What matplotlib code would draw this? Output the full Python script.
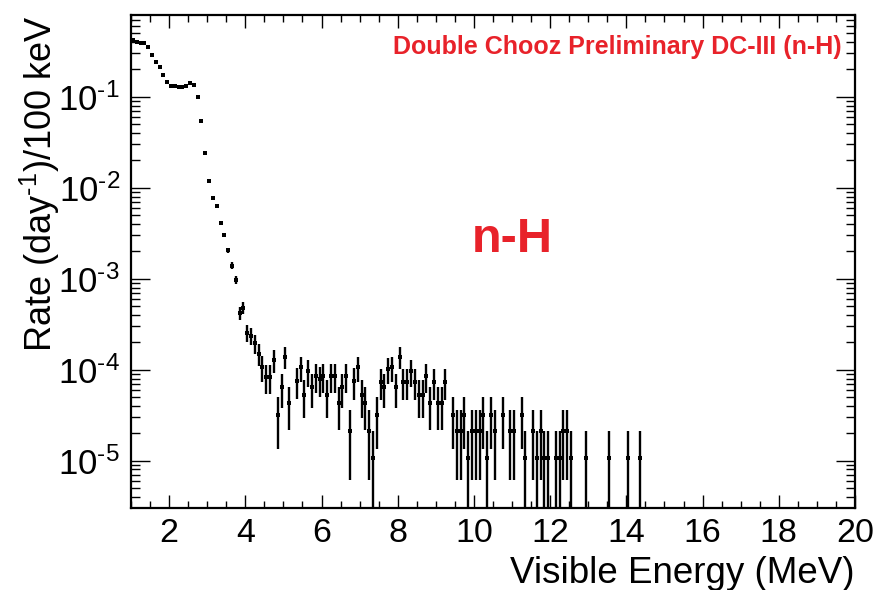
import numpy as np
import matplotlib
matplotlib.use("Agg")
import matplotlib.pyplot as plt
from matplotlib.ticker import FixedLocator, LogLocator, NullFormatter, FuncFormatter

plt.rcParams['font.family'] = ['Liberation Sans', 'DejaVu Sans']
plt.rcParams['mathtext.fontset'] = 'custom'
plt.rcParams['mathtext.rm'] = 'Liberation Sans'
plt.rcParams['mathtext.it'] = 'Liberation Sans:italic'
plt.rcParams['mathtext.bf'] = 'Liberation Sans:bold'
plt.rcParams['axes.unicode_minus'] = False

# ---- data ----
energy = [1.05, 1.15, 1.25, 1.35, 1.45, 1.55, 1.65, 1.75, 1.85, 1.95,
          2.05, 2.15, 2.25, 2.35, 2.45, 2.55, 2.65, 2.75, 2.85, 2.95,
          3.05, 3.15, 3.25, 3.35, 3.45, 3.55, 3.65, 3.75, 3.85, 3.95,
          4.05, 4.15, 4.25, 4.35, 4.45, 4.55, 4.65, 4.75, 4.85, 4.95,
          5.05, 5.15, 5.35, 5.45, 5.55, 5.65, 5.75, 5.85, 5.95,
          6.05, 6.15, 6.25, 6.35, 6.45, 6.55, 6.65, 6.75, 6.85, 6.95,
          7.05, 7.15, 7.25, 7.35, 7.45, 7.55, 7.65, 7.75, 7.85, 7.95,
          8.05, 8.15, 8.25, 8.35, 8.45, 8.55, 8.65, 8.75, 8.85, 8.95,
          9.05, 9.15, 9.25, 9.45, 9.55, 9.65, 9.75, 9.85, 9.95,
          10.05, 10.15, 10.25, 10.35, 10.45, 10.55, 10.75, 10.95,
          11.05, 11.25, 11.35, 11.55, 11.65, 11.75, 11.85, 11.95,
          12.15, 12.25, 12.35, 12.45, 12.55, 12.95, 13.55, 14.05, 14.35]

rate = [0.42, 0.40, 0.386, 0.386, 0.35, 0.285, 0.239, 0.21, 0.173, 0.144,
        0.132, 0.132, 0.129, 0.127, 0.132, 0.143, 0.135, 0.098, 0.054, 0.0239,
        0.0119, 0.00776, 0.0063, 0.00412, 0.00302, 0.00205, 0.00139, 0.000975, 0.000417, 0.000482,
        2.56e-4, 2.37e-4, 1.95e-4, 1.50e-4, 1.07e-4, 8.4e-5, 8.4e-5, 1.28e-4, 3.2e-5, 6.4e-5,
        1.39e-4, 4.3e-5, 7.6e-5, 1.06e-4, 5.3e-5, 9.7e-5, 6.4e-5, 8.5e-5, 7.9e-5,
        8.5e-5, 5.3e-5, 8.5e-5, 8.5e-5, 4.3e-5, 6.4e-5, 8.5e-5, 2.1e-5, 7.5e-5, 1.06e-4,
        5.3e-5, 4.3e-5, 2.1e-5, 1.06e-5, 3.2e-5, 7.4e-5, 6.4e-5, 1.02e-4, 1.06e-4, 6.4e-5,
        1.39e-4, 7.4e-5, 7.4e-5, 9.6e-5, 7.4e-5, 5.3e-5, 5.3e-5, 8.5e-5, 4.3e-5, 7.4e-5,
        4.3e-5, 4.3e-5, 7.4e-5, 3.2e-5, 2.1e-5, 2.1e-5, 3.2e-5, 1.06e-5, 2.1e-5,
        2.1e-5, 2.1e-5, 3.2e-5, 1.06e-5, 3.2e-5, 2.1e-5, 3.2e-5, 2.1e-5,
        2.1e-5, 3.2e-5, 1.06e-5, 2.1e-5, 1.06e-5, 2.1e-5, 1.06e-5, 1.06e-5,
        1.06e-5, 1.06e-5, 2.1e-5, 2.1e-5, 1.06e-5, 1.06e-5, 1.06e-5, 1.06e-5, 1.06e-5]

single_event_rate = 1.06e-5   # rate corresponding to one event (Poisson errors)
bin_half_width = 0.05

x_ticks = [2, 4, 6, 8, 10, 12, 14, 16, 18, 20]
title_text = "Double Chooz Preliminary DC-III (n-H)"
label_text = "n-H"

# ---- figure ----
W, H = 881, 590
fig = plt.figure(figsize=(W / 100, H / 100), dpi=100)
L, R, T, B = 131, 855, 15, 508
ax = fig.add_axes([L / W, 1 - B / H, (R - L) / W, (B - T) / H])

e = np.array(energy)
r = np.array(rate)
err = np.sqrt(r * single_event_rate)
lo = np.minimum(err, r - 1e-9)
ax.errorbar(e, r, xerr=bin_half_width, yerr=[lo, err], fmt='s', color='black',
            markersize=2.8, elinewidth=1.7, capsize=0, markeredgewidth=0)

ax.set_yscale('log')
ax.set_xlim(1, 20)
ax.set_ylim(3.02e-6, 0.79)

ax.xaxis.set_major_locator(FixedLocator(x_ticks))
ax.xaxis.set_minor_locator(FixedLocator(np.arange(1, 20.01, 0.5)))
ax.yaxis.set_major_locator(LogLocator(base=10, numticks=20))
ax.yaxis.set_minor_locator(LogLocator(base=10, subs=np.arange(2, 10), numticks=100))
ax.yaxis.set_minor_formatter(NullFormatter())


def pow_fmt(v, pos):
    p = int(round(np.log10(v)))
    sign = r"\text{-}" if p < 0 else ""
    return r"$\mathregular{10^{%s%d}}$" % (sign, abs(p))


ax.yaxis.set_major_formatter(FuncFormatter(pow_fmt))

ax.tick_params(axis='both', which='both', direction='in', top=True, right=True, width=1.0)
ax.tick_params(axis='x', which='major', length=9.4, labelsize=24.5, pad=7)
ax.tick_params(axis='x', which='minor', length=4.7)
ax.tick_params(axis='y', which='major', length=13.7, labelsize=25, pad=8)
ax.tick_params(axis='y', which='minor', length=6.5)
for s in ax.spines.values():
    s.set_linewidth(1.6)

fig.text(855 / W, 1 - 583 / H, "Visible Energy (MeV)", ha='right', va='baseline', fontsize=26.5)
fig.text(40 / W, 1 - 15 / H, r"Rate (day$^{\mathregular{\text{-}1}}$)/100 keV", rotation=90,
         ha='center', va='top', fontsize=26)

red = '#e8222a'
ax.text(842 / W, 1 - 47 / H, title_text, transform=fig.transFigure, ha='right', va='center',
        fontsize=18, fontweight='bold', color=red)
ax.text(512 / W, 1 - 240 / H, label_text, transform=fig.transFigure, ha='center', va='center',
        fontsize=35, fontweight='bold', color=red)

fig.savefig('out.png', dpi=100)
